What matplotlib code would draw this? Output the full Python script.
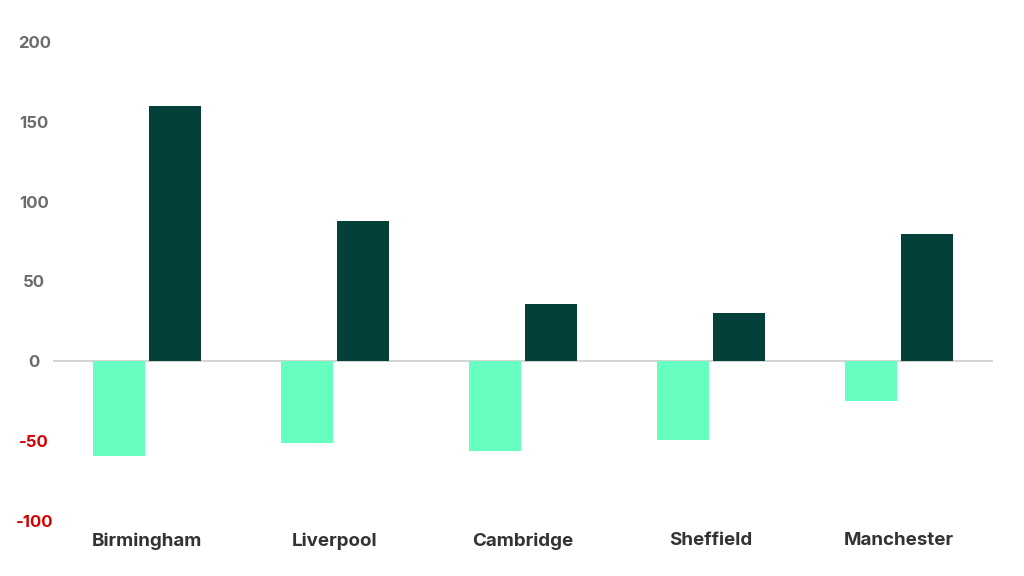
import matplotlib.pyplot as plt
import numpy as np

# data
cities = ["Birmingham", "Liverpool", "Cambridge", "Sheffield", "Manchester"]
neg_vals = [-59, -51, -56, -49, -25]
pos_vals = [160, 88, 36, 30, 80]
yticks = [-100, -50, 0, 50, 100, 150, 200]

light = '#66ffbf'
dark = '#03403a'
grey = '#6b6b6b'
red = '#d40000'

plt.rcParams['font.family'] = ['Inter', 'DejaVu Sans']

fig = plt.figure(figsize=(10.24, 5.76), dpi=100)
ax = fig.add_axes([53 / 1024, 1 - 521 / 576, 940 / 1024, 479 / 576])

x = np.arange(len(cities))
w = 0.277
gap = 0.021
ax.bar(x - (w + gap) / 2, neg_vals, width=w, color=light)
ax.bar(x + (w + gap) / 2, pos_vals, width=w, color=dark)

ax.axhline(0, color='#cccccc', lw=1.2, zorder=0)

ax.set_xlim(-0.5, len(cities) - 0.5)
ax.set_ylim(-100, 200)
for s in ax.spines.values():
    s.set_visible(False)

ax.set_xticks(x)
ax.set_xticklabels(cities, fontsize=13.5, fontweight='bold', color='#333333')
ax.tick_params(axis='x', length=0, pad=8)

ax.set_yticks(yticks)
ax.set_yticklabels([str(v) for v in yticks], fontsize=12, fontweight='bold', ha='center')
ax.tick_params(axis='y', length=0, pad=13.5)
for lab, v in zip(ax.get_yticklabels(), yticks):
    lab.set_color(red if v < 0 else grey)

fig.savefig("out.png", dpi=100)
